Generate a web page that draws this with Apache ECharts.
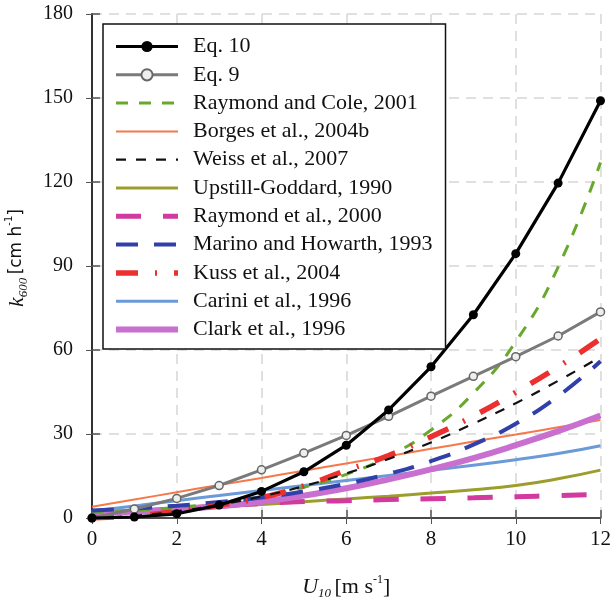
<!DOCTYPE html>
<html>
<head>
<meta charset="utf-8">
<script src="https://cdn.jsdelivr.net/npm/echarts@6/dist/echarts.min.js"></script>
<style>
  html, body { margin: 0; padding: 0; background: #fff; }
  #chart { width: 614px; height: 605px; }
</style>
</head>
<body>
<div id="chart"></div>
<script>
// wind speed U10 (m/s) sampled at whole numbers
const windSpeed = [0, 1, 2, 3, 4, 5, 6, 7, 8, 9, 10, 11, 12];

// k600 (cm/h)
const eq10 = [0, 0.35, 1.5, 4.6, 9.5, 16.5, 26, 38.6, 54, 72.6, 94.4, 119.6, 149];
const eq9 = [0, 3.2, 7, 11.6, 17.2, 23.2, 29.5, 36.3, 43.5, 50.6, 57.6, 65, 73.6];
const raymondCole = [1.9, 2.7, 3.8, 5.4, 7.7, 11, 15.6, 22.1, 31.4, 44.6, 63, 89.6, 127];
const borges = [4, 6.6, 9.2, 11.8, 14.3, 16.9, 19.5, 22.1, 24.7, 27.3, 29.8, 32.4, 35];
const weiss = [0, 0.8, 2.4, 4.7, 7.7, 11.4, 15.9, 21.1, 27, 33.7, 41, 49, 57.5];
const upstill = [1.4, 2.2, 3, 3.9, 4.8, 5.8, 6.8, 7.8, 8.9, 10.1, 11.6, 14, 17.1];
const raymond2000 = [1.5, 2.4, 3.3, 4.3, 5.2, 5.9, 6.2, 6.6, 6.9, 7.2, 7.6, 8, 8.4];
const marino = [2.7, 3.4, 4.4, 5.7, 7.3, 9.5, 12.2, 15.8, 20.3, 26.2, 33.7, 43.5, 56];
const kuss = [0, 0.8, 2.4, 4.6, 7.3, 11.5, 17, 22.3, 29, 36.4, 44.9, 54, 64];
const carini = [2.5, 4.3, 6.2, 8, 9.8, 11.6, 13.4, 15.2, 17, 18.8, 20.8, 23, 25.8];
const clark = [2, 2.2, 3, 4.2, 5.8, 8, 10.6, 13.8, 17.4, 21.4, 26, 31, 36.6];

const xTicks = { min: 0, max: 12, step: 2 };
const yTicks = { min: 0, max: 180, step: 30 };

const pairs = vals => windSpeed.map((u, i) => [u, vals[i]]);

const serif = 'Liberation Serif';

function curve(name, vals, color, width, dash, z, extra) {
  return Object.assign({
    name: name,
    type: 'line',
    data: pairs(vals),
    symbol: 'none',
    smooth: true,
    z: z,
    lineStyle: { color: color, width: width, type: dash, cap: 'butt' },
    itemStyle: { color: color }
  }, extra || {});
}

const seriesList = [
  curve('Eq. 10', eq10, '#000', 3.2, 'solid', 12, {
    smooth: false, symbol: 'circle', symbolSize: 9, showSymbol: true
  }),
  curve('Eq. 9', eq9, '#7a7a7a', 3, 'solid', 11, {
    smooth: false, symbol: 'circle', symbolSize: 8, showSymbol: true,
    itemStyle: { color: '#eee', borderColor: '#666', borderWidth: 1.5 }
  }),
  curve('Raymond and Cole, 2001', raymondCole, '#68a82c', 3, [12, 11], 5),
  curve('Borges et al., 2004b', borges, '#f6784a', 2, 'solid', 4),
  curve('Weiss et al., 2007', weiss, '#111', 2.2, [10, 10], 6),
  curve('Upstill-Goddard, 1990', upstill, '#9d9d2e', 3, 'solid', 3),
  curve('Raymond et al., 2000', raymond2000, '#d23a9f', 5, [25, 22], 3),
  curve('Marino and Howarth, 1993', marino, '#3040a8', 4, [22, 16], 5),
  curve('Kuss et al., 2004', kuss, '#ec3030', 5.5, [22, 17, 2, 17], 5),
  curve('Carini et al., 1996', carini, '#6b9ad9', 3, 'solid', 3),
  curve('Clark et al., 1996', clark, '#c86fcf', 6, 'solid', 4)
];

// legend entries: only the two equations keep a marker on the icon
const legendData = seriesList.map(s => s.symbol === 'none'
  ? { name: s.name, itemStyle: { opacity: 0 } }
  : { name: s.name });

const chart = echarts.init(document.getElementById('chart'));

chart.setOption({
  animation: false,
  backgroundColor: '#fff',
  grid: { left: 92, top: 14, width: 511, height: 513 },
  legend: {
    data: legendData,
    left: 103,
    top: 24,
    orient: 'vertical',
    padding: [11.5, 13, 8.5, 10],
    itemWidth: 62,
    itemHeight: 14,
    itemGap: 6.3,
    borderColor: '#111',
    borderWidth: 1.5,
    backgroundColor: '#fff',
    lineStyle: { width: 'inherit' },
    textStyle: { fontFamily: serif, fontSize: 22, color: '#111', lineHeight: 22, padding: [0, 0, 0, 10] },
    z: 20
  },
  xAxis: [{
    type: 'value',
    min: xTicks.min, max: xTicks.max, interval: xTicks.step,
    axisLine: { lineStyle: { color: '#555', width: 2 } },
    axisTick: { inside: true, length: 8, lineStyle: { color: '#555', width: 1.5 } },
    axisLabel: { fontFamily: serif, fontSize: 21, color: '#111', margin: 11 },
    splitLine: { lineStyle: { color: '#d6d6d6', width: 1.5, type: [10, 7] } },
    name: '{i|U}{sub|10} {n|[m s}{sup|-1}{n|]}',
    nameLocation: 'middle',
    nameGap: 56,
    nameTextStyle: {
      rich: {
        i: { fontFamily: serif, fontStyle: 'italic', fontSize: 22, color: '#111', lineHeight: 26 },
        sub: { fontFamily: serif, fontStyle: 'italic', fontSize: 13, color: '#111', lineHeight: 12, verticalAlign: 'bottom' },
        n: { fontFamily: serif, fontSize: 22, color: '#111', lineHeight: 26 },
        sup: { fontFamily: serif, fontSize: 12, color: '#111', lineHeight: 12, verticalAlign: 'top' }
      }
    }
  }, {
    type: 'value', position: 'top',
    min: xTicks.min, max: xTicks.max, interval: xTicks.step,
    axisLine: { lineStyle: { color: '#444', width: 1.5 } },
    axisTick: { inside: true, length: 6, lineStyle: { color: '#555' } },
    axisLabel: { show: false },
    splitLine: { show: false }
  }],
  yAxis: [{
    type: 'value',
    min: yTicks.min, max: yTicks.max, interval: yTicks.step,
    axisLine: { show: true, lineStyle: { color: '#666', width: 2 } },
    axisTick: { show: true, inside: true, length: 8, lineStyle: { color: '#555', width: 1.5 } },
    axisLabel: { fontFamily: serif, fontSize: 20, color: '#111', margin: 19 },
    splitLine: { lineStyle: { color: '#d6d6d6', width: 1.5, type: [10, 7] } }
  }, {
    type: 'value', position: 'right',
    min: yTicks.min, max: yTicks.max, interval: yTicks.step,
    axisLine: { show: true, lineStyle: { color: '#222', width: 1.5 } },
    axisTick: { show: true, inside: true, length: 6, lineStyle: { color: '#555' } },
    axisLabel: { show: false },
    splitLine: { show: false }
  }],
  graphic: [{
    type: 'text',
    x: 17,
    y: 258,
    rotation: Math.PI / 2,
    style: {
      text: '{k|k}{sub|600} {n|[cm h}{sup|-1}{n|]}',
      align: 'center',
      verticalAlign: 'middle',
      rich: {
        k: { fontFamily: serif, fontStyle: 'italic', fontSize: 22, fill: '#111', lineHeight: 26 },
        sub: { fontFamily: serif, fontStyle: 'italic', fontSize: 13, fill: '#111', lineHeight: 12, verticalAlign: 'bottom' },
        n: { fontFamily: 'DejaVu Sans', fontSize: 17, fill: '#111', lineHeight: 26 },
        sup: { fontFamily: 'DejaVu Sans', fontSize: 10, fill: '#111', lineHeight: 12, verticalAlign: 'top' }
      }
    }
  }],
  series: seriesList
});
</script>
</body>
</html>
